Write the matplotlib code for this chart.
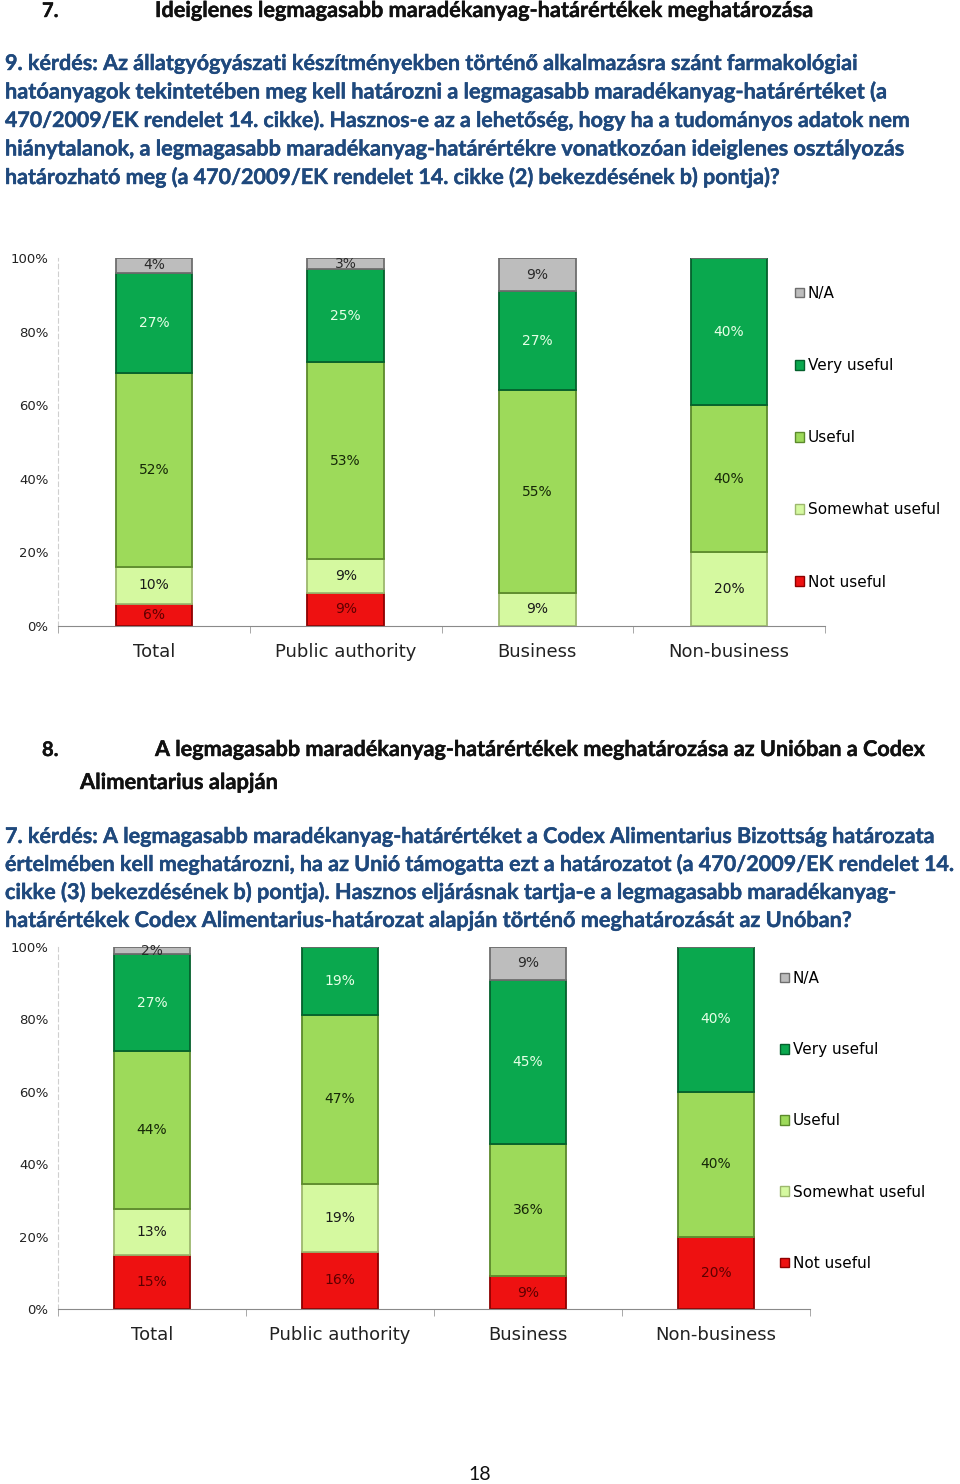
import matplotlib.pyplot as plt
import matplotlib.patheffects as pe
from matplotlib.patches import Patch
import numpy as np

categories = ['Total', 'Public authority', 'Business', 'Non-business']
series = ['Not useful', 'Somewhat useful', 'Useful', 'Very useful', 'N/A']
colors = ['#EE1111', '#D5F9A0', '#9DDA5A', '#0AA84E', '#BDBDBD']
edges = ['#8E0000', '#9DB86E', '#5C8A2C', '#04602C', '#6E6E6E']
label_colors = ['#5E0000', '#1A1A1A', '#162808', '#E6FFE6', '#2A2A2A']
yticks = [0, 20, 40, 60, 80, 100]

# 9. kérdés chart
q9_not_useful = [6, 9, 0, 0]
q9_somewhat = [10, 9, 9, 20]
q9_useful = [52, 53, 55, 40]
q9_very = [27, 25, 27, 40]
q9_na = [4, 3, 9, 0]

# 7. kérdés chart
q7_not_useful = [15, 16, 9, 20]
q7_somewhat = [13, 19, 0, 0]
q7_useful = [44, 47, 36, 40]
q7_very = [27, 19, 45, 40]
q7_na = [2, 0, 9, 0]

heading1 = ['7.', 'Ideiglenes legmagasabb maradékanyag-határértékek meghatározása']
para1 = [
    '9. kérdés: Az állatgyógyászati készítményekben történő alkalmazásra szánt farmakológiai',
    'hatóanyagok tekintetében meg kell határozni a legmagasabb maradékanyag-határértéket (a',
    '470/2009/EK rendelet 14. cikke). Hasznos-e az a lehetőség, hogy ha a tudományos adatok nem',
    'hiánytalanok, a legmagasabb maradékanyag-határértékre vonatkozóan ideiglenes osztályozás',
    'határozható meg (a 470/2009/EK rendelet 14. cikke (2) bekezdésének b) pontja)?',
]
heading2 = ['8.', 'A legmagasabb maradékanyag-határértékek meghatározása az Unióban a Codex',
            'Alimentarius alapján']
para2 = [
    '7. kérdés: A legmagasabb maradékanyag-határértéket a Codex Alimentarius Bizottság határozata',
    'értelmében kell meghatározni, ha az Unió támogatta ezt a határozatot (a 470/2009/EK rendelet 14.',
    'cikke (3) bekezdésének b) pontja). Hasznos eljárásnak tartja-e a legmagasabb maradékanyag-',
    'határértékek Codex Alimentarius-határozat alapján történő meghatározását az Unóban?',
]

W, H = 960, 1484
fig = plt.figure(figsize=(W / 100, H / 100), dpi=100)
renderer = fig.canvas.get_renderer()


def fx(px):
    return px / W


def fy(py):
    return 1 - py / H


def fitted_text(x0, x1, base, s, color):
    # size the line so that it spans x0..x1 pixels, like the scanned page
    t = fig.text(fx(x0), fy(base), s, fontsize=10, family='Lato', weight='bold', color=color,
                 path_effects=[pe.withStroke(linewidth=0.3, foreground=color)])
    w = t.get_window_extent(renderer).width
    t.set_fontsize(10 * (x1 - x0) / w)
    return t


blue = '#1F497D'
black = '#111111'
bold_black = [pe.withStroke(linewidth=0.3, foreground=black)]
fig.text(fx(42), fy(17), heading1[0], fontsize=14.5, family='Lato', weight='bold', color=black,
         path_effects=bold_black)
fitted_text(155, 814, 17, heading1[1], black)
for line, base, right in zip(para1, [70, 98.5, 127, 155.5, 184], [858, 888, 912, 905, 782]):
    fitted_text(5, right, base, line, blue)
fig.text(fx(42), fy(756), heading2[0], fontsize=14.5, family='Lato', weight='bold', color=black,
         path_effects=bold_black)
fitted_text(155, 925, 756, heading2[1], black)
fitted_text(80, 278, 789, heading2[2], black)
for line, base, right in zip(para2, [843, 871, 899, 927], [935, 955, 897, 852]):
    fitted_text(5, right, base, line, blue)
fig.text(fx(480), fy(1480), '18', fontsize=14, family='Lato', color=black, ha='center')


def draw_chart(rect, data, legend_xy, legend_gap):
    ax = fig.add_axes(rect)
    data = np.array(data, dtype=float)
    totals = data.sum(axis=0)
    x = np.arange(len(categories))
    bottom = np.zeros(len(categories))
    for k, name in enumerate(series):
        h = data[k] / totals * 100
        ax.bar(x, h, bottom=bottom, width=0.4, color=colors[k], edgecolor=edges[k],
               linewidth=1.3, label=name)
        for xi, hi, bi, v in zip(x, h, bottom, data[k]):
            if v > 0:
                ax.text(xi, bi + hi / 2, f'{int(v)}%', ha='center', va='center',
                        fontsize=10, color=label_colors[k])
        bottom += h
    ax.set_xlim(-0.5, len(categories) - 0.5)
    ax.set_ylim(0, 100)
    ax.set_yticks(yticks)
    ax.set_yticklabels([f'{t}%' for t in yticks], fontsize=9.5, color='#222222')
    ax.tick_params(axis='y', length=0, pad=7)
    ax.set_xticks(x)
    ax.set_xticklabels(categories, fontsize=13, color='#222222')
    ax.set_xticks(np.arange(-0.5, len(categories)), minor=True)
    ax.tick_params(axis='x', which='major', length=0, pad=12)
    ax.tick_params(axis='x', which='minor', length=5, color='#9A9A9A')
    for s in ['top', 'right']:
        ax.spines[s].set_visible(False)
    ax.spines['bottom'].set_color('#8A8A8A')
    ax.spines['left'].set_color('#CFCFCF')
    ax.spines['left'].set_linestyle((0, (4, 3)))
    handles = [Patch(facecolor=colors[k], edgecolor=edges[k], label=series[k])
               for k in range(len(series))][::-1]
    ax.legend(handles=handles, loc='upper left', bbox_to_anchor=legend_xy,
              bbox_transform=fig.transFigure, frameon=False, fontsize=11,
              handlelength=0.6, handleheight=0.6, handletextpad=0.25,
              labelspacing=legend_gap, borderpad=0, borderaxespad=0)
    return ax


q9 = [q9_not_useful, q9_somewhat, q9_useful, q9_very, q9_na]
q7 = [q7_not_useful, q7_somewhat, q7_useful, q7_very, q7_na]

draw_chart([fx(58), fy(626), fx(825) - fx(58), (626 - 258) / H], q9,
           (fx(795), fy(286)), 3.74)
draw_chart([fx(58), fy(1309), fx(810) - fx(58), (1309 - 947) / H], q7,
           (fx(780), fy(971)), 3.68)

fig.savefig('out.png', dpi=100, facecolor='white')
